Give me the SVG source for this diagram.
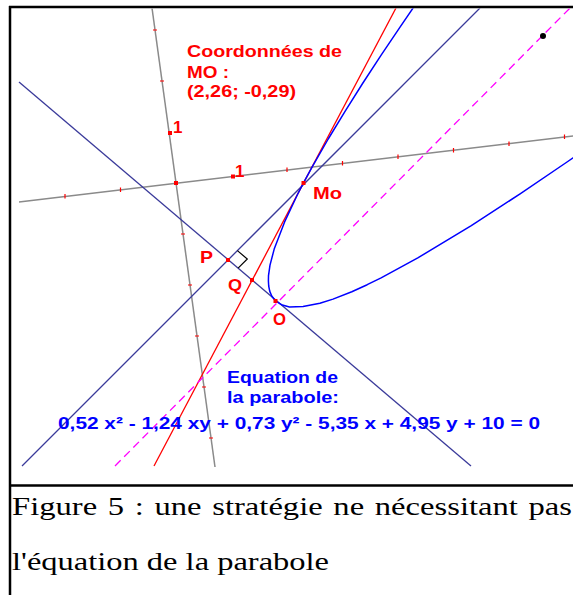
<svg xmlns="http://www.w3.org/2000/svg" width="573" height="595" viewBox="0 0 573 595">
<style>
.frame{stroke:#000;stroke-width:2.5;fill:none}
.axis{stroke:#8a8a8a;stroke-width:1.5;fill:none}
.tick{stroke:#ff0000;stroke-width:1.2}
.navy{stroke:#3a3a9a;stroke-width:1.3;fill:none}
.red{stroke:#ff0000;stroke-width:1.3;fill:none}
.para{stroke:#0000ff;stroke-width:1.5;fill:none;stroke-linejoin:round}
.dash{stroke:#ff00ff;stroke-width:1.3;stroke-dasharray:8 5;fill:none}
.pt{fill:#ff0000}
.lab{font-family:"Liberation Sans",Arial,sans-serif;font-weight:bold;font-size:17px}
.r{fill:#ff0000}
.b{fill:#0000ff}
.cap{font-family:"Liberation Serif","Times New Roman",serif;font-size:26px;fill:#000}
</style>
<defs>
<clipPath id="area"><rect x="11" y="8.5" width="562" height="459"/></clipPath>
</defs>
<rect x="0" y="0" width="573" height="595" fill="#fff"/>
<g id="frame">
<line class="frame" x1="9" y1="7" x2="573" y2="7"/>
<line class="frame" x1="10" y1="6" x2="10" y2="595"/>
<line class="frame" x1="9" y1="485.5" x2="573" y2="485.5"/>
</g>
<g clip-path="url(#area)">
<g id="axes">
<line class="axis" x1="152" y1="8" x2="215" y2="467"/>
<line class="axis" x1="19" y1="202" x2="575" y2="135.8"/>
<g class="tick">
<line x1="153" y1="30" x2="157" y2="30"/>
<line x1="160" y1="81" x2="164" y2="81"/>
<line x1="181" y1="234" x2="185" y2="234"/>
<line x1="188" y1="285" x2="192" y2="285"/>
<line x1="195" y1="336" x2="199" y2="336"/>
<line x1="202" y1="387" x2="206" y2="387"/>
<line x1="209" y1="438" x2="213" y2="438"/>
<line x1="65" y1="194" x2="65" y2="198.5"/>
<line x1="120.5" y1="187.5" x2="120.5" y2="192"/>
<line x1="287" y1="167.5" x2="287" y2="172"/>
<line x1="342.5" y1="161" x2="342.5" y2="165.5"/>
<line x1="398" y1="154.5" x2="398" y2="159"/>
<line x1="453.5" y1="148" x2="453.5" y2="152.5"/>
<line x1="509" y1="141.5" x2="509" y2="146"/>
<line x1="564.5" y1="134.5" x2="564.5" y2="139"/>
</g>
</g>
<g id="connectors">
<line id="lineA" class="navy" x1="19" y1="82" x2="471" y2="466"/>
<line id="lineB" class="navy" x1="22" y1="466" x2="480" y2="8"/>
<line id="tangent" class="red" x1="396" y1="8" x2="154" y2="466"/>
<line id="axisDash" class="dash" x1="115" y1="466" x2="570" y2="8"/>
<polyline id="rightAngle" points="237.4,250.6 247.3,259 238.1,268.2" fill="none" stroke="#000" stroke-width="1.2"/>
</g>
<g id="parabola">
<polyline class="para" points="419.6,-1.5 400.2,26.8 381.3,54.9 362.9,83.0 345.2,111.1 328.2,139.0 312.2,166.8 303.5,182.9 297.5,194.5 284.6,221.9 274.2,249.1 270.0,265.1 268.5,275.7 268.4,280.9 268.7,286.0 269.7,291.1 271.7,296.0 275.4,300.8 282.3,305.1 289.5,306.9 303.1,306.6 319.9,303.3 333.0,299.1 351.8,291.7 367.2,284.7 381.1,277.8 417.8,257.9 471.3,225.6 520.1,193.9 566.3,162.5 575.3,156.2"/>
</g>
<g id="points">
<rect class="pt" x="174" y="181" width="4" height="4"/>
<rect class="pt" x="168" y="131" width="4" height="4"/>
<rect class="pt" x="231" y="174.5" width="4" height="4"/>
<rect class="pt" x="301.5" y="181" width="4" height="4"/>
<rect class="pt" x="226" y="258" width="4" height="4"/>
<rect class="pt" x="250" y="278" width="4" height="4"/>
<rect class="pt" x="273.5" y="299" width="4" height="4"/>
<circle cx="543" cy="36" r="3" fill="#000"/>
</g>
</g>
<g id="labels">
<text class="lab r" x="187" y="57" textLength="155" lengthAdjust="spacingAndGlyphs">Coordonnées de</text>
<text class="lab r" x="187" y="78" textLength="42" lengthAdjust="spacingAndGlyphs">MO :</text>
<text class="lab r" x="187" y="97" textLength="109" lengthAdjust="spacingAndGlyphs">(2,26; -0,29)</text>
<text class="lab r" x="173" y="133">1</text>
<text class="lab r" x="235" y="177">1</text>
<text class="lab r" x="313" y="199" textLength="29" lengthAdjust="spacingAndGlyphs">Mo</text>
<text class="lab r" x="200" y="263" textLength="13" lengthAdjust="spacingAndGlyphs">P</text>
<text class="lab r" x="228" y="291" textLength="14" lengthAdjust="spacingAndGlyphs">Q</text>
<text class="lab r" x="273" y="325" textLength="13" lengthAdjust="spacingAndGlyphs">O</text>
<text class="lab b" x="227" y="383" textLength="111" lengthAdjust="spacingAndGlyphs">Equation de</text>
<text class="lab b" x="227" y="403" textLength="112" lengthAdjust="spacingAndGlyphs">la parabole:</text>
<text class="lab b" x="58" y="429" textLength="482" lengthAdjust="spacingAndGlyphs">0,52 x² - 1,24 xy + 0,73 y² - 5,35 x + 4,95 y + 10 = 0</text>
</g>
<g id="caption">
<text class="cap" x="12" y="515" word-spacing="2" textLength="560" lengthAdjust="spacingAndGlyphs">Figure 5 : une stratégie ne nécessitant pas</text>
<text class="cap" x="12" y="570" textLength="317" lengthAdjust="spacingAndGlyphs">l'équation de la parabole</text>
</g>
</svg>
